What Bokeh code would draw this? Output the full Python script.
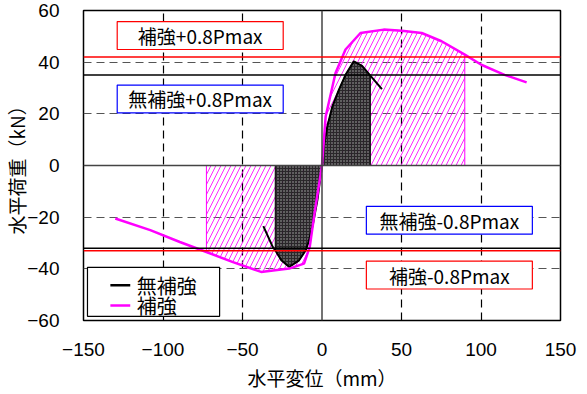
import numpy as np
from bokeh.plotting import figure
from bokeh.models import Span, Range1d, FixedTicker
from bokeh.core.properties import value
from bokeh.embed import file_html
from bokeh.resources import INLINE

# ---- data ----
# 補強 (reinforced) backbone curve
reinf_x = [-130, -108, -89.4, -72.7, -56, -38.3, -20.6, -11.3, -7.7, -4.4, 0, 2.3, 8.5, 14.8, 24.2, 38.8, 50.2, 62.7, 75.2, 89.8, 100.2, 114.8, 128.7]
reinf_y = [-20.5, -25, -29.6, -33.5, -37.4, -41.2, -39.9, -38, -31.5, -17.3, 0, 19, 35.8, 44.9, 51.3, 52.6, 52.2, 51.3, 48.1, 42.9, 39, 35.1, 32.2]
# 無補強 (unreinforced) backbone curve
unre_x = [-36.9, -31, -29.4, -25.6, -20.6, -14.4, -10.2, -8.1, -5.6, -2.9, 0, 1.25, 3.3, 6.5, 10.6, 14.8, 20, 25.2, 30.4, 37.7]
unre_y = [-23.5, -31.5, -32.8, -36.7, -39.3, -36.7, -32.8, -28.9, -22.4, -13.4, 0, 7.6, 15, 22.8, 29.3, 35.1, 40.3, 38.6, 34.8, 29.6]
# 0.8Pmax levels (kN)
reinf_pos, reinf_neg = 42.0, -33.0
unre_pos, unre_neg = 35.0, -32.0
# displacement limits of the energy areas (mm)
reinf_lim = (-72.7, 89.8)
unre_lim = (-29.4, 30.4)

series_names = ["無補強", "補強"]
series_colors = ["black", "#ff00ff"]

x_ticks = [-150, -100, -50, 0, 50, 100, 150]
y_ticks = [-60, -40, -20, 0, 20, 40, 60]

JP = "Noto Sans CJK JP"
NUM = "Liberation Sans"

p = figure(width=580, height=393, output_backend="svg", toolbar_location=None,
           x_range=Range1d(-150, 150), y_range=Range1d(-60, 60),
           min_border_left=80, min_border_right=20, min_border_top=10, min_border_bottom=72)
p.background_fill_color = "white"
p.border_fill_color = "white"
p.outline_line_color = "black"
p.outline_line_width = 1.5

for ax, ticks in ((p.xaxis[0], x_ticks), (p.yaxis[0], y_ticks)):
    ax.ticker = FixedTicker(ticks=ticks)
    ax.major_tick_out = 0
    ax.major_tick_in = 0
    ax.minor_tick_out = 0
    ax.minor_tick_in = 0
    ax.axis_line_color = None
    ax.major_label_text_font = NUM
    ax.major_label_text_font_size = "19px"
    ax.major_label_text_color = "black"
    ax.axis_label_text_font = JP
    ax.axis_label_text_font_size = "19px"
    ax.axis_label_text_font_style = "normal"
    ax.axis_label_text_color = "black"
p.xaxis.axis_label = "水平変位（mm）"
p.yaxis.axis_label = "水平荷重（kN）"
p.xaxis.major_label_standoff = 22
p.yaxis.major_label_standoff = 24
p.xaxis.axis_label_standoff = 5
p.yaxis.axis_label_standoff = -6

p.xgrid.ticker = FixedTicker(ticks=[-100, -50, 50, 100])
p.ygrid.ticker = FixedTicker(ticks=[-40, -20, 20, 40])
p.xgrid.grid_line_color = "black"
p.ygrid.grid_line_color = "#555555"
p.xgrid.grid_line_dash = "8 5"
p.ygrid.grid_line_dash = "8 5"
p.xgrid.grid_line_width = 1.2
p.ygrid.grid_line_width = 1.2

p.add_layout(Span(location=0, dimension="height", line_color="#444444", line_width=1.5))
p.add_layout(Span(location=0, dimension="width", line_color="#444444", line_width=1.5))


def area(xs, ys, lim):
    xs = np.asarray(xs, float)
    ys = np.asarray(ys, float)
    lo, hi = lim
    inner = (xs > lo) & (xs < hi)
    px = np.concatenate([[lo], xs[inner], [hi]])
    py = np.concatenate([[np.interp(lo, xs, ys)], ys[inner], [np.interp(hi, xs, ys)]])
    px = np.concatenate([px, [hi, lo]])
    py = np.concatenate([py, [0, 0]])
    return px, py


rx, ry = area(reinf_x, reinf_y, reinf_lim)
p.patch(rx, ry, fill_alpha=0, line_color="#ff00ff", line_width=1,
        hatch_pattern="right_diagonal_line", hatch_color="#ff00ff", hatch_scale=10, hatch_weight=1,
        hatch_alpha=0.85)
ux, uy = area(unre_x, unre_y, unre_lim)
p.patch(ux, uy, fill_color="#1a1a1a", fill_alpha=0.93, line_color="black", line_width=1,
        hatch_pattern="dot", hatch_color="#b0b0b0", hatch_scale=3, hatch_weight=1)

for loc, col in ((unre_pos, "black"), (unre_neg, "black"), (reinf_pos, "red"), (reinf_neg, "red")):
    p.add_layout(Span(location=loc, dimension="width", line_color=col, line_width=1.5))

p.line(unre_x, unre_y, line_color=series_colors[0], line_width=2)
p.line(reinf_x, reinf_y, line_color=series_colors[1], line_width=2.5)

# annotation boxes
boxes = [
    ("補強+0.8Pmax", -76.6, 50.3, "red"),
    ("無補強+0.8Pmax", -76.6, 25.75, "blue"),
    ("無補強-0.8Pmax", 80.1, -21.2, "blue"),
    ("補強-0.8Pmax", 80.1, -42.4, "red"),
]
for txt, cx, cy, col in boxes:
    p.rect(x=cx, y=cy, width=104.4, height=10.8, fill_color="white", line_color=col, line_width=1.2)
    p.text(x=[cx], y=[cy], text=[txt], text_align="center", text_baseline="middle",
           text_font=value(JP), text_font_size="19px", text_color="black")

# legend (compact, like the original)
p.quad(left=-147.5, right=-64.4, bottom=-58.4, top=-39.4,
       fill_color="white", line_color="black", line_width=1.2)
for i, (name, col) in enumerate(zip(series_names, series_colors)):
    ly = -46.4 - 7.8 * i
    p.segment(x0=-133.1, x1=-120.6, y0=ly, y1=ly, line_color=col, line_width=2.5)
    p.text(x=[-116.5], y=[ly], text=[name], text_align="left", text_baseline="middle",
           text_font=value(JP), text_font_size="20px", text_color="black")

open("out.html", "w").write(file_html(p, INLINE))
